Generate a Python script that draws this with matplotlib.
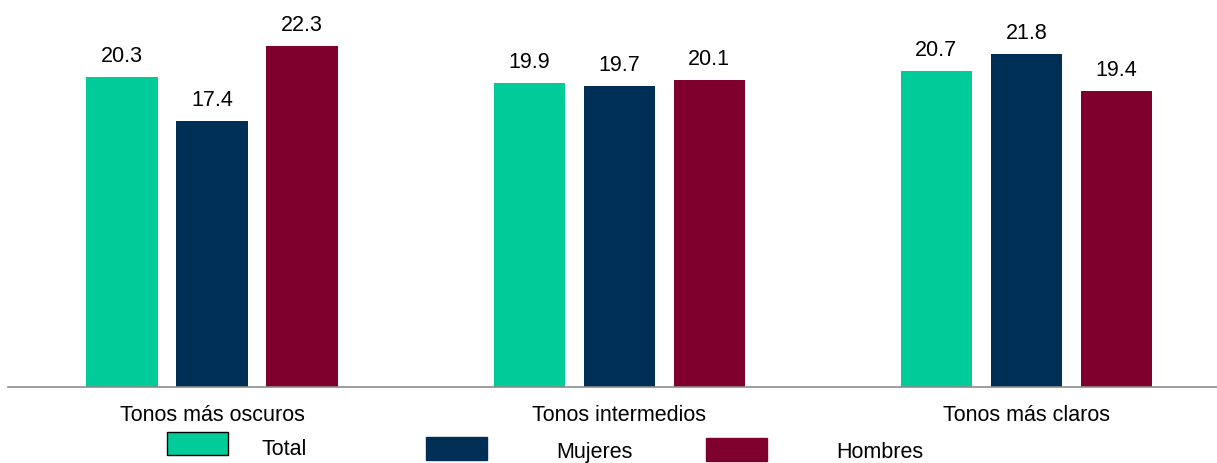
import matplotlib.pyplot as plt
from matplotlib.patches import Rectangle
import numpy as np

plt.rcParams['font.family'] = ['Liberation Sans', 'DejaVu Sans']

# datos
categorias = ["Tonos más oscuros", "Tonos intermedios", "Tonos más claros"]
series = ["Total", "Mujeres", "Hombres"]
total = [20.3, 19.9, 20.7]
mujeres = [17.4, 19.7, 21.8]
hombres = [22.3, 20.1, 19.4]
colores = ["#00CC99", "#002F56", "#80002D"]

fig = plt.figure(figsize=(12.17, 4.64), dpi=100)
ax = fig.add_axes([8 / 1217, 76 / 464, 1209 / 1217, 388 / 464])

x = np.arange(len(categorias))
paso = 0.221
ancho = 0.175
for i, (vals, col) in enumerate(zip([total, mujeres, hombres], colores)):
    barras = ax.bar(x + (i - 1) * paso, vals, ancho, color=col)
    for b, v in zip(barras, vals):
        ax.annotate(f"{v:.1f}", (b.get_x() + b.get_width() / 2, v),
                    xytext=(0, 8), textcoords="offset points",
                    ha="center", va="bottom", fontsize=15.5)

ax.set_xlim(-0.501, 2.468)
ax.set_ylim(0, 25.4)
ax.set_xticks(x)
ax.set_xticklabels(categorias, fontsize=15.5)
ax.tick_params(axis="x", length=0, pad=12)
ax.set_yticks([])
for s in ["top", "right", "left"]:
    ax.spines[s].set_visible(False)
ax.spines["bottom"].set_color("#8C8C8C")
ax.spines["bottom"].set_linewidth(1.2)

# leyenda manual
leyenda = [(167, 433, 262, 450), (426, 438, 556, 453), (706, 439, 836, 453)]
for (px, py, tx, ty), nombre, col in zip(leyenda, series, colores):
    borde = "black" if nombre == "Total" else col
    fig.patches.append(Rectangle((px / 1217, 1 - (py + 23) / 464), 61 / 1217, 23 / 464,
                                 transform=fig.transFigure, facecolor=col,
                                 edgecolor=borde, linewidth=1))
    fig.text(tx / 1217, 1 - ty / 464, nombre, fontsize=15.5, va="center", ha="left")

fig.savefig("out.png", dpi=100)
